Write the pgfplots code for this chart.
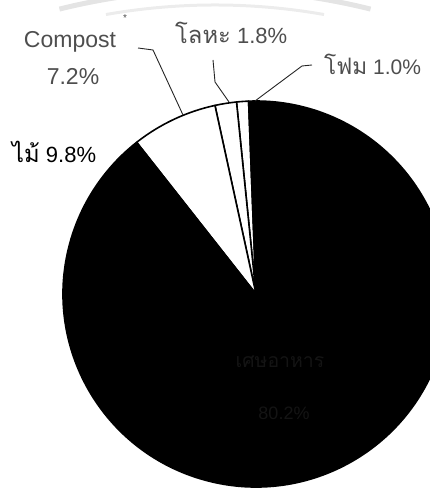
\documentclass[border=0pt]{standalone}
\usepackage{pgfplots}
\pgfplotsset{compat=1.18}
\usepackage{fontspec}
\setmainfont{Liberation Sans}
\newfontfamily\thai[Script=Thai, Scale=1.08]{Loma}

\definecolor{labelgray}{RGB}{78,78,78}
\definecolor{wmgray}{RGB}{228,228,228}
\definecolor{innertext}{RGB}{20,20,20}

\begin{document}
\begin{tikzpicture}
\begin{axis}[
  name=pie,
  x=1pt, y=1pt,
  xmin=0, xmax=430, ymin=0, ymax=500,
  hide axis,
  clip=true,
]
% faint background band
\pgfplotsextra{
  \draw[wmgray, line width=5pt] (axis cs:215,-133) ++(104:643pt) arc[start angle=104, end angle=76, radius=643pt];
  \draw[wmgray!70, line width=3pt] (axis cs:215,-133) ++(100:628pt) arc[start angle=100, end angle=80, radius=628pt];
}
% pie slices: share in percent / fill, counter-clockwise from the top
\pgfplotsextra{
  \foreach \v/\c [evaluate=\v as \e using \s+3.6*\v,
                  remember=\e as \s (initially 92.2)]
     in {1.0/white, 1.8/white, 7.2/white, 9.8/black, 80.2/black} {
    \filldraw[fill=\c, draw=black, line width=1.6pt, line join=round]
      (axis cs:256,206) -- ++(\s:193pt)
      arc[start angle=\s, end angle=\e, radius=193pt] -- cycle;
  }
}
% leader lines
\addplot[black!85, line width=0.9pt] coordinates {(138,452) (153,450) (183,385)};
\addplot[black!85, line width=0.9pt] coordinates {(213,440) (215,418) (229,398)};
\addplot[black!85, line width=0.9pt] coordinates {(312,435) (302,434) (255,399)};
% labels
\node[anchor=base, text=labelgray, font=\fontsize{23}{27}\selectfont] at (axis cs:70,452) {Compost};
\node[anchor=base, text=labelgray, font=\fontsize{23}{27}\selectfont] at (axis cs:73,415) {7.2\%};
\node[text=labelgray, font=\fontsize{10}{12}\selectfont] at (axis cs:125,482) {*};
\node[anchor=base west, inner sep=0pt, text=labelgray, font=\fontsize{22}{26}\selectfont] at (axis cs:175,456) {{\thai โลหะ} 1.8\%};
\node[anchor=base west, inner sep=0pt, text=labelgray, font=\fontsize{21}{25}\selectfont] at (axis cs:324,425) {{\thai โฟม} 1.0\%};
\node[anchor=base west, inner sep=0pt, text=black, font=\fontsize{22}{26}\selectfont] at (axis cs:12,337) {{\thai ไม้} 9.8\%};
\node[anchor=base, text=innertext, font=\fontsize{18}{22}\selectfont] at (axis cs:280,132) {\thai เศษอาหาร};
\node[anchor=base, text=innertext, font=\fontsize{18}{22}\selectfont] at (axis cs:284,80) {80.2\%};
\end{axis}
\pgfresetboundingbox
\path[use as bounding box] (pie.south west) rectangle (pie.north east);
\end{tikzpicture}
\end{document}
